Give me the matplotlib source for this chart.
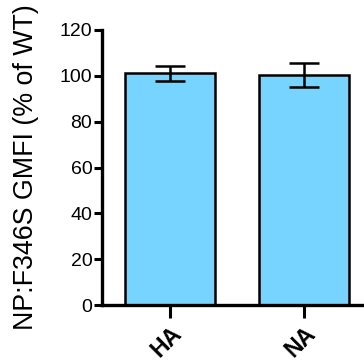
import matplotlib.pyplot as plt

groups = ['HA', 'NA']
means = [101.2, 100.4]
errs = [3.3, 5.2]

plt.rcParams['font.family'] = ['Liberation Sans', 'DejaVu Sans']

fig = plt.figure(figsize=(3.64, 3.62), dpi=100)
ax = fig.add_axes([102/364, 1-305/362, 1-102/364, (305-30)/362])

x = range(len(groups))
ax.bar(x, means, width=0.67, color='#76D4FF', edgecolor='black', linewidth=1.8, zorder=2)
ax.errorbar(x, means, yerr=errs, fmt='none', ecolor='black', elinewidth=1.8,
            capsize=11, capthick=1.8, zorder=3)

ax.set_xlim(-0.507, 1.45)
ax.set_ylim(0, 120)
ax.set_yticks([0, 20, 40, 60, 80, 100, 120])
ax.set_xticks(list(x))
ax.set_xticklabels(groups, rotation=45, ha='right', rotation_mode='anchor',
                   fontsize=16.5, fontweight='bold')
ax.tick_params(axis='y', labelsize=14, width=2.2, length=6, pad=1)
ax.tick_params(axis='x', width=2.2, length=9, pad=3)
for s in ['top', 'right']:
    ax.spines[s].set_visible(False)
for s in ['left', 'bottom']:
    ax.spines[s].set_linewidth(2.4)
fig.text(26/364, 1-167/362, 'NP:F346S GMFI (% of WT)', fontsize=19.3,
         rotation=90, ha='center', va='center')

fig.savefig('out.png', dpi=100)
